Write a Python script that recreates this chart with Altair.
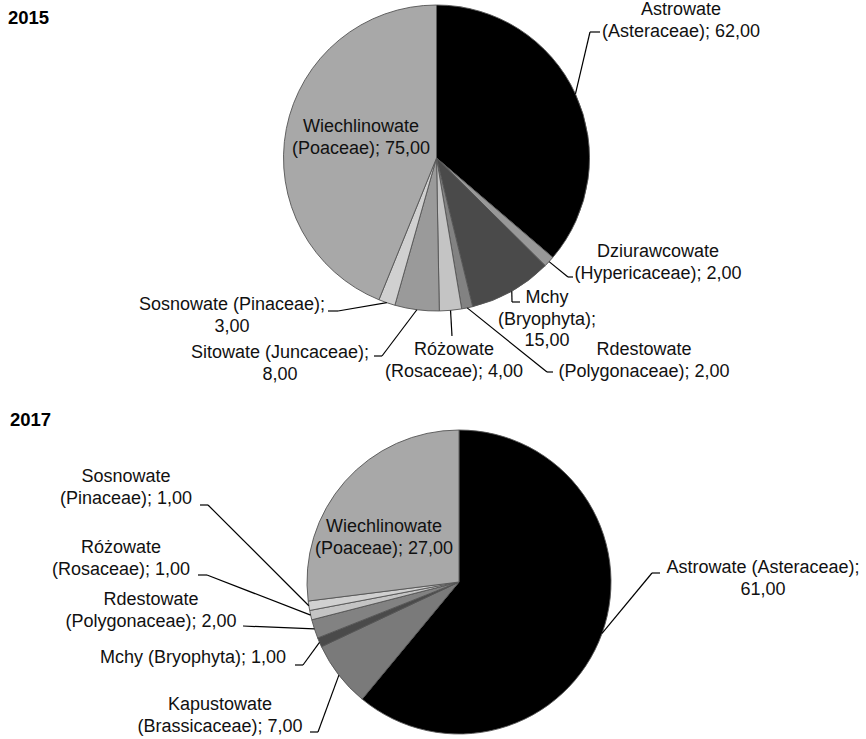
import altair as alt
import numpy as np
import pandas as pd

W, H = 866, 739
FONT = "Liberation Sans"

# ---- data -------------------------------------------------------------
names_2015 = ["Astrowate", "Dziurawcowate", "Mchy", "Rdestowate", "Różowate",
              "Sitowate", "Sosnowate", "Wiechlinowate"]
latin_2015 = ["(Asteraceae)", "(Hypericaceae)", "(Bryophyta)", "(Polygonaceae)",
              "(Rosaceae)", "(Juncaceae)", "(Pinaceae)", "(Poaceae)"]
values_2015 = [62, 2, 15, 2, 4, 8, 3, 75]

names_2017 = ["Astrowate", "Kapustowate", "Mchy", "Rdestowate", "Różowate",
              "Sosnowate", "Wiechlinowate"]
latin_2017 = ["(Asteraceae)", "(Brassicaceae)", "(Bryophyta)", "(Polygonaceae)",
              "(Rosaceae)", "(Pinaceae)", "(Poaceae)"]
values_2017 = [61, 7, 1, 2, 1, 1, 27]

# ---- styling ----------------------------------------------------------
family_domain = ["Astrowate", "Dziurawcowate", "Kapustowate", "Mchy", "Rdestowate",
                 "Różowate", "Sitowate", "Sosnowate", "Wiechlinowate"]
family_greys = ["#000000", "#989898", "#7a7a7a", "#4a4a4a", "#828282",
                "#c4c4c4", "#9a9a9a", "#d0d0d0", "#a8a8a8"]
color_scale = alt.Scale(domain=family_domain, range=family_greys)

# pie centre / radius per year
PIES = {
    "2015": dict(cx=436.5, cy=158.0, r=153.0),
    "2017": dict(cx=459.0, cy=582.0, r=152.0),
}

# label placement: centre x, first line y, line templates, leader (elbow[, end])
LAYOUT = {
    "2015": {
        "Astrowate": (681, 10, ["{n}", "{l}; {v}"], [(590, 32), (600, 32)]),
        "Dziurawcowate": (658, 252, ["{n}", "{l}; {v}"], [(568, 277), (573, 277)]),
        "Mchy": (547, 298, ["{n}", "{l};", "{v}"], [(512, 302), (520, 302)]),
        "Rdestowate": (644, 350, ["{n}", "{l}; {v}"], [(547, 372), (553, 372)]),
        "Różowate": (454, 350, ["{n}", "{l}; {v}"], [(452, 336)]),
        "Sitowate": (280, 353, ["{n} {l};", "{v}"], [(382, 356), (374, 356)]),
        "Sosnowate": (232, 305, ["{n} {l};", "{v}"], [(338, 311), (328, 311)]),
        "Wiechlinowate": (361, 127, ["{n}", "{l}; {v}"], None),
    },
    "2017": {
        "Astrowate": (763, 568, ["{n} {l};", "{v}"], [(652, 573), (660, 573)]),
        "Kapustowate": (220, 705, ["{n}", "{l}; {v}"], [(318, 732), (310, 732)]),
        "Mchy": (193, 658, ["{n} {l}; {v}"], [(303, 665), (295, 665)]),
        "Rdestowate": (151, 600, ["{n}", "{l}; {v}"], [(243, 626)]),
        "Różowate": (121, 548, ["{n}", "{l}; {v}"], [(207, 575), (198, 575)]),
        "Sosnowate": (126, 477, ["{n}", "{l}; {v}"], [(208, 505), (200, 505)]),
        "Wiechlinowate": (384, 527, ["{n}", "{l}; {v}"], None),
    },
}
LINE_H = 21.5

SERIES = {
    "2015": (names_2015, latin_2015, values_2015),
    "2017": (names_2017, latin_2017, values_2017),
}
TITLE_POS = {"2015": (8, 18), "2017": (10, 420)}


def fmt(v):
    return f"{v:.2f}".replace(".", ",")


layers = []
text_rows, rule_rows, title_rows = [], [], []

for year, (names, latin, values) in SERIES.items():
    geo = PIES[year]
    df = pd.DataFrame({"family": names, "value": values, "idx": range(len(names))})
    layers.append(
        alt.Chart(df)
        .mark_arc(radius=geo["r"], stroke="#555555", strokeWidth=0.9)
        .encode(
            theta=alt.Theta("value:Q", stack=True),
            order=alt.Order("idx:Q"),
            color=alt.Color("family:N", scale=color_scale, legend=None),
            x=alt.value(geo["cx"]),
            y=alt.value(geo["cy"]),
        )
    )

    total = float(sum(values))
    cum = 0.0
    for n, l, v in zip(names, latin, values):
        mid = (cum + v / 2.0) / total * 2 * np.pi
        cum += v
        px = geo["cx"] + geo["r"] * np.sin(mid)
        py = geo["cy"] - geo["r"] * np.cos(mid)
        lx, ly, templates, leader = LAYOUT[year][n]
        for k, t in enumerate(templates):
            text_rows.append({"x": lx, "y": ly + k * LINE_H,
                              "text": t.format(n=n, l=l, v=fmt(v))})
        if leader:
            pts = [(px, py)] + list(leader)
            for (x1, y1), (x2, y2) in zip(pts[:-1], pts[1:]):
                rule_rows.append({"x": x1, "y": y1, "x2": x2, "y2": y2})

    tx, ty = TITLE_POS[year]
    title_rows.append({"x": tx, "y": ty, "text": year})

rules = (
    alt.Chart(pd.DataFrame(rule_rows))
    .mark_rule(color="#000000", strokeWidth=1.2)
    .encode(
        x=alt.X("x:Q", scale=None),
        y=alt.Y("y:Q", scale=None),
        x2="x2:Q",
        y2="y2:Q",
    )
)

labels = (
    alt.Chart(pd.DataFrame(text_rows))
    .mark_text(font=FONT, fontSize=18, color="#111111", align="center", baseline="middle")
    .encode(x=alt.X("x:Q", scale=None), y=alt.Y("y:Q", scale=None), text="text:N")
)

titles = (
    alt.Chart(pd.DataFrame(title_rows))
    .mark_text(font=FONT, fontSize=18.5, fontWeight="bold", color="#000000",
               align="left", baseline="middle")
    .encode(x=alt.X("x:Q", scale=None), y=alt.Y("y:Q", scale=None), text="text:N")
)

chart = (
    alt.layer(*layers, rules, labels, titles)
    .resolve_scale(theta="independent")
    .properties(width=W, height=H, padding=0,
                autosize=alt.AutoSizeParams(type="none"))
    .configure_view(stroke=None)
)

chart.save("out.html", embed_options={"renderer": "svg", "actions": False})
